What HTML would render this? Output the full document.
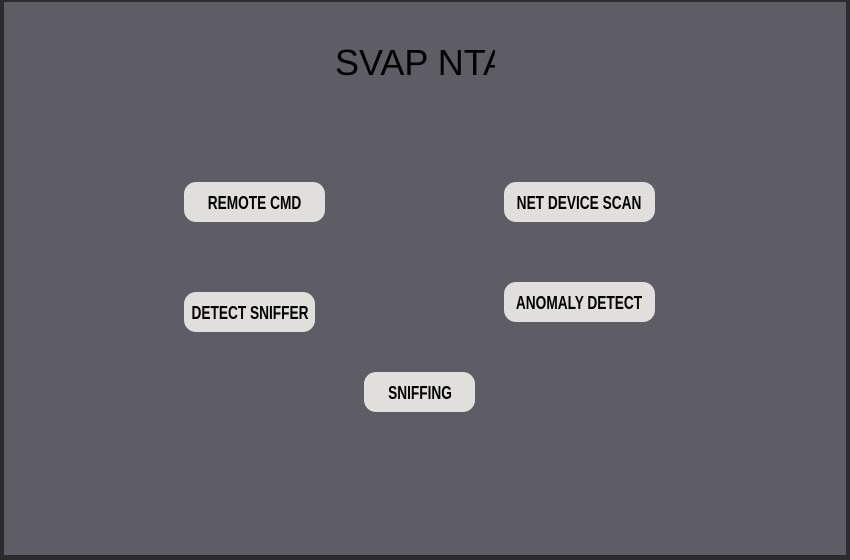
<!DOCTYPE html>
<html><head><meta charset="utf-8"><style>
html,body{margin:0;padding:0;width:850px;height:560px;overflow:hidden;background:#2b2b2e;}
.win{position:absolute;left:4px;top:2px;width:842px;height:553px;background:#5e5d66;}
.title{position:absolute;left:335px;top:40px;width:160px;height:50px;overflow:hidden;white-space:nowrap;font-family:"Liberation Sans",sans-serif;font-size:36px;color:#000;line-height:46px;}
.b{position:absolute;height:40px;background:#e0dfdc;border-radius:12px;display:flex;align-items:center;justify-content:center;font-family:"Liberation Sans",sans-serif;font-weight:bold;font-size:18px;color:#000;white-space:nowrap;padding-top:2px;box-sizing:border-box;}
.b span{display:inline-block;transform:scaleX(0.76);}
</style></head><body>
<div class="win"></div>
<div class="title">SVAP NTA</div>
<div class="b" style="left:184px;top:182px;width:141px"><span>REMOTE CMD</span></div>
<div class="b" style="left:504px;top:182px;width:151px"><span>NET DEVICE SCAN</span></div>
<div class="b" style="left:184px;top:292px;width:131px"><span>DETECT SNIFFER</span></div>
<div class="b" style="left:504px;top:282px;width:151px"><span>ANOMALY DETECT</span></div>
<div class="b" style="left:364px;top:372px;width:111px"><span>SNIFFING</span></div>
</body></html>
